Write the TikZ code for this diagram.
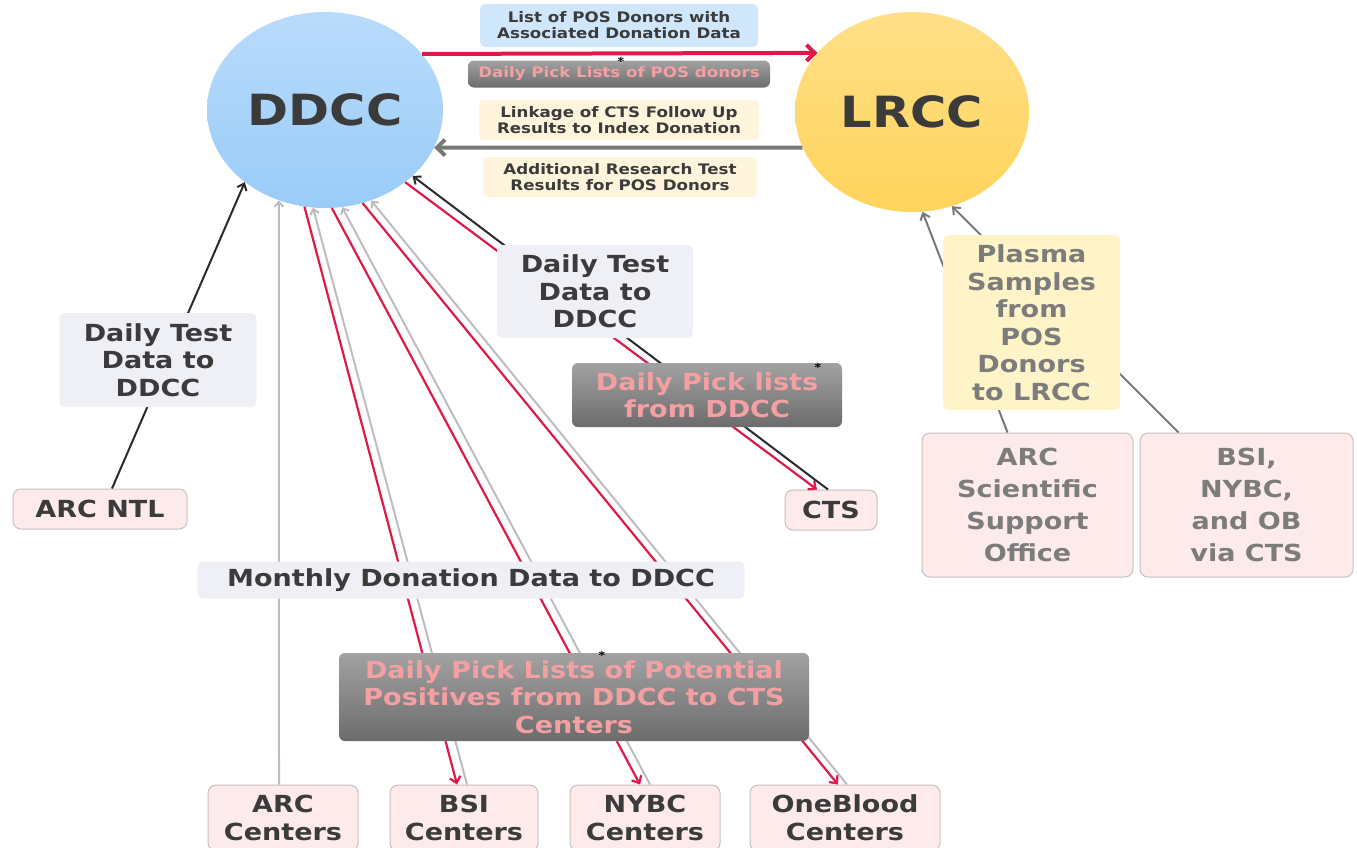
\documentclass[tikz,border=0pt]{standalone}
\usepackage{fontspec}
\setmainfont{DejaVu Sans}[FakeStretch=1.15]
\usetikzlibrary{shapes.geometric,arrows.meta}
\definecolor{hubblue}{HTML}{9ACCF8}
\definecolor{hubblueTop}{HTML}{B9DBFB}
\definecolor{hubgold}{HTML}{FFD45C}
\definecolor{hubgoldTop}{HTML}{FFE088}
\definecolor{txtdark}{HTML}{3B3B3B}
\definecolor{txtgray}{HTML}{7C7C7C}
\definecolor{tagfill}{HTML}{EFEFF6}
\definecolor{bluefill}{HTML}{D0E6FA}
\definecolor{creamfill}{HTML}{FFF5DC}
\definecolor{plasmafill}{HTML}{FFF4C8}
\definecolor{sitefill}{HTML}{FDEBEB}
\definecolor{siteline}{HTML}{C9BFC0}
\definecolor{pickTop}{HTML}{A2A2A2}
\definecolor{pickBot}{HTML}{6C6C6C}
\definecolor{picktxt}{HTML}{F4A0A3}
\definecolor{redline}{HTML}{DE1A4B}
\definecolor{grayline}{HTML}{BDBDBD}
\definecolor{darkline}{HTML}{787878}
\definecolor{blackline}{HTML}{2A2A2A}

\begin{document}
\begin{tikzpicture}[x=1pt,y=-1pt,
  hub/.style={ellipse,inner sep=0pt,text=txtdark,
    font=\fontsize{43}{43}\selectfont\bfseries},
  site/.style={draw=siteline,fill=sitefill,line width=1pt,rounded corners=8pt,
    inner sep=0pt,align=center,text=txtdark,
    font=\fontsize{23.5}{28}\selectfont\bfseries},
  tag/.style={fill=tagfill,rounded corners=6pt,inner sep=0pt,align=center,
    text=txtdark,font=\fontsize{23.5}{27.5}\selectfont\bfseries},
  smalltag/.style={rounded corners=5pt,inner sep=0pt,align=center,
    text=txtdark,font=\fontsize{14.5}{16}\selectfont\bfseries},
  picktag/.style={top color=pickTop,bottom color=pickBot,rounded corners=6pt,
    inner sep=0pt,align=center,text=picktxt},
  star/.style={inner sep=0pt,font=\fontsize{11}{11}\selectfont\bfseries},
  redflow/.style={draw=redline,line width=2.2pt,-{Straight Barb[length=6pt,width=11pt]}},
  grayflow/.style={draw=grayline,line width=2pt,-{Straight Barb[length=5pt,width=9pt]}},
  blackflow/.style={draw=blackline,line width=2pt,-{Straight Barb[length=6pt,width=10pt]}},
  sampleflow/.style={draw=darkline,line width=2pt,-{Straight Barb[length=6pt,width=10pt]}}
]
\useasboundingbox (0,0) rectangle (1357,847);

% the two centres
\node[hub,top color=hubblueTop,bottom color=hubblue,minimum width=236,minimum height=196]
  (ddcc) at (325,110) {DDCC};
\node[hub,top color=hubgoldTop,bottom color=hubgold,minimum width=234,minimum height=200]
  (lrcc) at (912,112) {LRCC};

% sites
\node[site,minimum width=174,minimum height=40] (arcntl) at (100,509) {ARC NTL};
\node[site,minimum width=92,minimum height=40] (cts) at (831,510) {CTS};
\node[site,minimum width=150,minimum height=66] (arcc) at (283,818) {ARC\\Centers};
\node[site,minimum width=148,minimum height=66] (bsic) at (464,818) {BSI\\Centers};
\node[site,minimum width=150,minimum height=66] (nybc) at (645,818) {NYBC\\Centers};
\node[site,minimum width=190,minimum height=66] (obc) at (845,818) {OneBlood\\Centers};
\node[site,text=txtgray,minimum width=211,minimum height=144,
  font=\fontsize{23.5}{32}\selectfont\bfseries] (arcsso) at (1027.5,505)
  {ARC\\Scientific\\Support\\Office};
\node[site,text=txtgray,minimum width=213,minimum height=144,
  font=\fontsize{23.5}{32}\selectfont\bfseries] (bsinybc) at (1246.5,505)
  {BSI,\\NYBC,\\and OB\\via CTS};

% flows between the centres
\draw[draw=redline,line width=4pt,-{Straight Barb[length=8pt,width=16pt]}]
  (ddcc.30) -- (lrcc.148);
\draw[draw=darkline,line width=4pt,-{Straight Barb[length=8pt,width=16pt]}]
  (lrcc.-162) -- (ddcc.-19);

% flows to and from DDCC
\draw[blackflow] ([xshift=12]arcntl.north) -- (ddcc.-138);
\draw[grayflow] ([xshift=-4]arcc.north) -- (ddcc.-117);
\draw[redflow] (ddcc.-102) -- ([xshift=-7]bsic.north);
\draw[grayflow] ([xshift=3]bsic.north) -- (ddcc.-97);
\draw[redflow] (ddcc.-86) -- ([xshift=-5]nybc.north);
\draw[grayflow] ([xshift=5]nybc.north) -- (ddcc.-80);
\draw[redflow] (ddcc.-68) -- ([xshift=-7]obc.north);
\draw[grayflow] ([xshift=2]obc.north) -- (ddcc.-63);
\draw[redflow] (ddcc.-42) -- ([xshift=-14]cts.north);
\draw[blackflow] ([xshift=-3]cts.north) -- (ddcc.-37);

% samples to LRCC
\draw[sampleflow] ([xshift=-20]arcsso.north) -- (lrcc.-84);
\draw[sampleflow] ([xshift=-68]bsinybc.north) -- (lrcc.-67);

% labels
\node[smalltag,fill=bluefill,minimum width=278,minimum height=43] (tagList) at (619,25.5)
  {List of POS Donors with\\Associated Donation Data};
\node[smalltag,picktag,minimum width=302,minimum height=27] (tagPickPOS) at (619,74)
  {Daily Pick Lists of POS donors};
\node[star] (starPOS) at (621,61) {*};
\node[smalltag,fill=creamfill,minimum width=280,minimum height=40] (tagLink) at (619,120)
  {Linkage of CTS Follow Up\\Results to Index Donation};
\node[smalltag,fill=creamfill,minimum width=274,minimum height=40] (tagAdd) at (620,177)
  {Additional Research Test\\Results for POS Donors};
\node[tag,minimum width=197,minimum height=94] (tagTestNTL) at (158,360)
  {Daily Test\\Data to\\DDCC};
\node[tag,minimum width=196,minimum height=93] (tagTestCTS) at (595,291.5)
  {Daily Test\\Data to\\DDCC};
\node[tag,picktag,minimum width=270,minimum height=64] (tagPickCTS) at (707,395)
  {Daily Pick lists\\from DDCC};
\node[star] (starCTS) at (818,367) {*};
\node[tag,minimum width=547,minimum height=37] (tagMonthly) at (471,580)
  {Monthly Donation Data to DDCC};
\node[tag,picktag,minimum width=470,minimum height=88] (tagPickPos) at (574,697)
  {Daily Pick Lists of Potential\\Positives from DDCC to CTS\\Centers};
\node[star] (starPos) at (602,655) {*};
\node[tag,fill=plasmafill,text=txtgray,minimum width=177,minimum height=175] (tagPlasma)
  at (1031.5,322.5) {Plasma\\Samples\\from\\POS\\Donors\\to LRCC};
\end{tikzpicture}
\end{document}
